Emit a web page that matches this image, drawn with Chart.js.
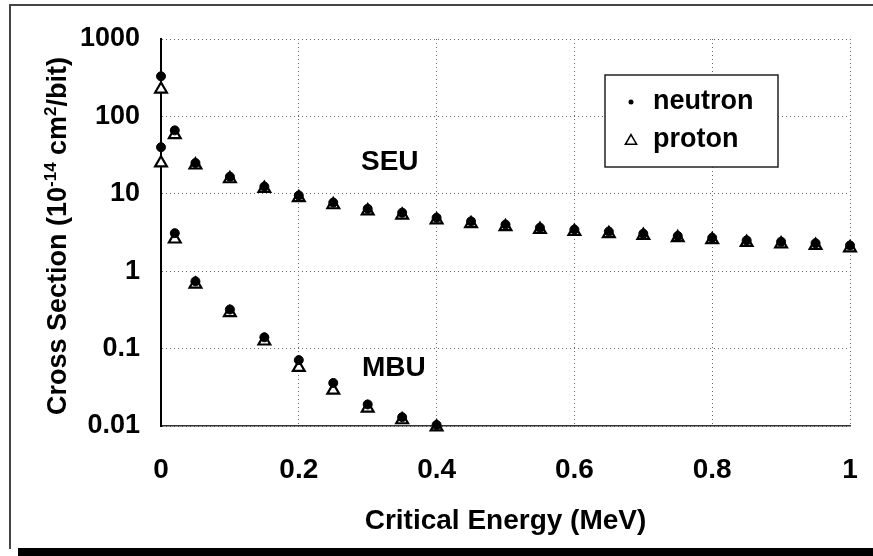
<!DOCTYPE html>
<html>
<head>
<meta charset="utf-8">
<script src="https://cdn.jsdelivr.net/npm/chart.js@4.4.1/dist/chart.umd.min.js"></script>
<style>
    html, body { margin: 0; padding: 0; background: #fff; }
</style>
</head>
<body>
<canvas id="chart" width="873" height="556"></canvas>
<script>
// Critical energy (MeV) and cross sections (1e-14 cm2/bit)
const seuEnergy = [0, 0.02, 0.05, 0.1, 0.15, 0.2, 0.25, 0.3, 0.35, 0.4, 0.45, 0.5, 0.55, 0.6, 0.65, 0.7, 0.75, 0.8, 0.85, 0.9, 0.95, 1.0];
const seuNeutron = [330, 66, 25, 16.6, 12.4, 9.5, 7.7, 6.4, 5.7, 4.9, 4.4, 4.0, 3.65, 3.45, 3.25, 3.05, 2.85, 2.7, 2.5, 2.4, 2.3, 2.15];
const seuProton = [225, 58, 23.5, 15.6, 11.7, 8.9, 7.2, 6.0, 5.3, 4.6, 4.1, 3.75, 3.45, 3.25, 3.05, 2.9, 2.7, 2.55, 2.35, 2.25, 2.15, 2.0];

const mbuEnergy = [0, 0.02, 0.05, 0.1, 0.15, 0.2, 0.25, 0.3, 0.35, 0.4];
const mbuNeutron = [40, 3.1, 0.74, 0.32, 0.14, 0.071, 0.036, 0.019, 0.013, 0.0103];
const mbuProton = [25, 2.6, 0.68, 0.29, 0.125, 0.057, 0.029, 0.017, 0.012, 0.0097];

const xTicks = [0, 0.2, 0.4, 0.6, 0.8, 1];
const xTickLabels = ['0', '0.2', '0.4', '0.6', '0.8', '1'];
const yTicks = [0.01, 0.1, 1, 10, 100, 1000];
const yTickLabels = ['0.01', '0.1', '1', '10', '100', '1000'];

// [text, superscript?]
const yTitleParts = [['Cross Section (10', false], ['-14', true], [' cm', false], ['2', true], ['/bit)', false]];

const FONT = "'Liberation Sans', Arial, sans-serif";

const toPoints = (xs, ys) => xs.map((x, i) => ({ x: x, y: ys[i] }));

// White page with the scanned frame round it
const framePlugin = {
    id: 'frame',
    beforeDraw(chart) {
        const c = chart.ctx;
        c.save();
        c.fillStyle = '#fff';
        c.fillRect(0, 0, chart.width, chart.height);
        c.strokeStyle = '#444';
        c.lineWidth = 2;
        c.beginPath();
        c.moveTo(10, 549);
        c.lineTo(10, 5);
        c.lineTo(873, 5);
        c.stroke();
        c.fillStyle = '#000';
        c.fillRect(18, 548, chart.width - 18, chart.height - 548);
        c.restore();
    }
};

// Rotated y title with real superscripts
const yTitlePlugin = {
    id: 'yTitle',
    afterDraw(chart) {
        const c = chart.ctx;
        const big = 'bold 27px ' + FONT;
        const small = 'bold 17px ' + FONT;
        c.save();
        c.fillStyle = '#000';
        c.textBaseline = 'alphabetic';
        let total = 0;
        yTitleParts.forEach(([t, sup]) => {
            c.font = sup ? small : big;
            total += c.measureText(t).width;
        });
        c.translate(66, 236);
        c.rotate(-Math.PI / 2);
        let x = -total / 2;
        yTitleParts.forEach(([t, sup]) => {
            c.font = sup ? small : big;
            c.fillText(t, x, sup ? -10 : 0);
            x += c.measureText(t).width;
        });
        c.restore();
    }
};

// Boxed legend inside the plot
const legendPlugin = {
    id: 'boxLegend',
    afterDraw(chart) {
        const c = chart.ctx;
        c.save();
        c.fillStyle = '#fff';
        c.fillRect(605, 75, 173, 92);
        c.strokeStyle = '#222';
        c.lineWidth = 1.5;
        c.strokeRect(605, 75, 173, 92);
        const rows = [102, 140];
        chart.data.datasets.forEach((ds, i) => {
            const y = rows[i];
            if (ds.pointStyle === 'circle') {
                c.fillStyle = '#000';
                c.beginPath();
                c.arc(631, y, 2.5, 0, Math.PI * 2);
                c.fill();
            } else {
                c.fillStyle = '#fff';
                c.strokeStyle = '#000';
                c.lineWidth = 1.5;
                Chart.helpers.drawPoint(c, { pointStyle: 'triangle', radius: 6.5, borderWidth: 1.5 }, 631, y + 1);
            }
            c.fillStyle = '#000';
            c.font = 'bold 27px ' + FONT;
            c.textBaseline = 'middle';
            c.textAlign = 'left';
            c.fillText(ds.label, 653, y);
        });
        c.restore();
    }
};

// SEU / MBU region labels
const notesPlugin = {
    id: 'notes',
    afterDatasetsDraw(chart) {
        const c = chart.ctx;
        const xs = chart.scales.x, ys = chart.scales.y;
        const notes = [
            { text: 'SEU', x: 0.332, y: 25.8 },
            { text: 'MBU', x: 0.338, y: 0.056 }
        ];
        c.save();
        c.fillStyle = '#000';
        c.font = 'bold 28px ' + FONT;
        c.textAlign = 'center';
        c.textBaseline = 'middle';
        notes.forEach(n => c.fillText(n.text, xs.getPixelForValue(n.x), ys.getPixelForValue(n.y)));
        c.restore();
    }
};

const ctx = document.getElementById('chart');

new Chart(ctx, {
    type: 'scatter',
    data: {
        datasets: [
            {
                label: 'neutron',
                data: toPoints(seuEnergy, seuNeutron).concat(toPoints(mbuEnergy, mbuNeutron)),
                pointStyle: 'circle',
                pointRadius: 4.5,
                backgroundColor: '#000',
                borderColor: '#000',
                borderWidth: 1,
                clip: false
            },
            {
                label: 'proton',
                data: toPoints(seuEnergy, seuProton).concat(toPoints(mbuEnergy, mbuProton)),
                pointStyle: 'triangle',
                pointRadius: 6.8,
                backgroundColor: '#fff',
                borderColor: '#000',
                borderWidth: 2.2,
                clip: false
            }
        ]
    },
    options: {
        responsive: false,
        animation: false,
        devicePixelRatio: 1,
        layout: { padding: { left: 0, top: 39, right: 23, bottom: 0 } },
        plugins: {
            legend: { display: false },
            tooltip: { enabled: false }
        },
        scales: {
            x: {
                type: 'linear',
                min: 0,
                max: 1,
                afterBuildTicks: (scale) => { scale.ticks = xTicks.map(v => ({ value: v })); },
                afterFit: (scale) => {
                    scale.height = 130;
                    scale.paddingLeft = 0;   // keep the plot edge fixed
                    scale.paddingRight = 0;
                },
                ticks: {
                    callback: (value, i) => xTickLabels[i],
                    color: '#000',
                    font: { family: FONT, size: 28, weight: 'bold' },
                    padding: 27,
                    maxRotation: 0,
                    autoSkip: false
                },
                grid: { color: '#666', lineWidth: 1, drawTicks: false },
                border: { color: '#333', width: 1.5, dash: [1, 3] },
                title: {
                    display: true,
                    text: 'Critical Energy (MeV)',
                    color: '#000',
                    font: { family: FONT, size: 28, weight: 'bold' },
                    padding: { top: 0, bottom: 18 }
                }
            },
            y: {
                type: 'logarithmic',
                min: 0.01,
                max: 1000,
                afterBuildTicks: (scale) => { scale.ticks = yTicks.map(v => ({ value: v })); },
                afterFit: (scale) => { scale.width = 161; },
                ticks: {
                    callback: (value, i) => yTickLabels[i],
                    color: '#000',
                    font: { family: FONT, size: 27, weight: 'bold' },
                    padding: 21,
                    autoSkip: false
                },
                grid: { color: '#666', lineWidth: 1, drawTicks: false },
                border: { color: '#000', width: 2, dash: [1, 3] }
            }
        }
    },
    plugins: [framePlugin, yTitlePlugin, legendPlugin, notesPlugin]
});
</script>
</body>
</html>
